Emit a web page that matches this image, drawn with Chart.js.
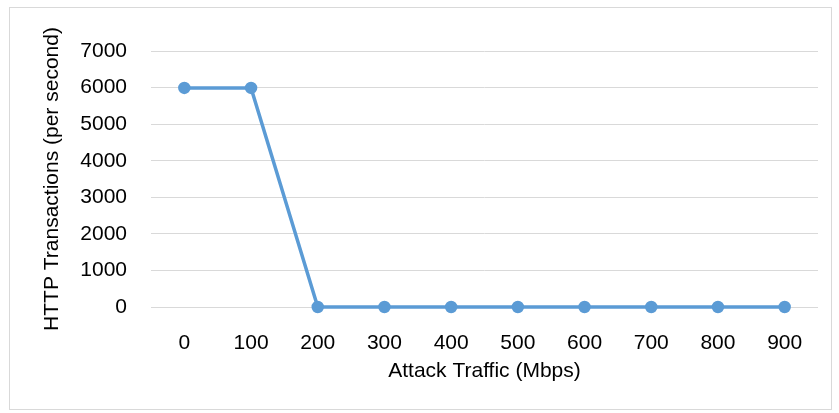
<!DOCTYPE html>
<html>
<head>
<meta charset="utf-8">
<script src="https://cdn.jsdelivr.net/npm/chart.js@4.4.1/dist/chart.umd.min.js"></script>
<style>
    html, body { margin: 0; padding: 0; background: #fff; }
</style>
</head>
<body>
<canvas id="chart" width="839" height="413"></canvas>
<script>
const attackTraffic = ['0', '100', '200', '300', '400', '500', '600', '700', '800', '900']
const transactions = [5990, 5990, 0, 0, 0, 0, 0, 0, 0, 0]

const lineColor = '#5B9BD5'
const gridColor = '#d9d9d9'
const textColor = '#000'

// grey frame round the whole chart
const framePlugin = {
    id: 'frame',
    afterDraw(chart) {
        const ctx = chart.ctx
        ctx.save()
        ctx.strokeStyle = '#d9d9d9'
        ctx.lineWidth = 1
        ctx.strokeRect(9.5, 7.5, 822, 402)
        ctx.restore()
    }
}

Chart.defaults.font.family = '"Liberation Sans", Arial, Helvetica, sans-serif'
Chart.defaults.font.size = 21
Chart.defaults.color = textColor

new Chart(document.getElementById('chart'), {
    type: 'line',
    data: {
        labels: attackTraffic,
        datasets: [{
            data: transactions,
            borderColor: lineColor,
            backgroundColor: lineColor,
            borderWidth: 3.5,
            pointRadius: 4.5,
            pointHoverRadius: 4.5,
            tension: 0,
            clip: false,
        }]
    },
    options: {
        responsive: false,
        animation: false,
        events: [],
        layout: {padding: {left: 36, right: 21, top: 51, bottom: 25}},
        plugins: {legend: {display: false}, tooltip: {enabled: false}},
        scales: {
            x: {
                offset: true,
                grid: {display: false, drawTicks: false},
                border: {display: false},
                ticks: {padding: 24, maxRotation: 0},
                title: {display: true, text: 'Attack Traffic (Mbps)', padding: {top: 4, bottom: 4}},
                afterFit(scale) { scale.height = 81 },
            },
            y: {
                min: 0,
                max: 7000,
                ticks: {stepSize: 1000, padding: 24, callback: (v) => String(v)},
                grid: {color: gridColor, drawTicks: false},
                border: {display: false},
                title: {display: true, text: 'HTTP Transactions (per second)', padding: {top: 4, bottom: 4}},
                afterFit(scale) { scale.width = 151 - 36 },
            }
        }
    },
    plugins: [framePlugin]
})
</script>
</body>
</html>
